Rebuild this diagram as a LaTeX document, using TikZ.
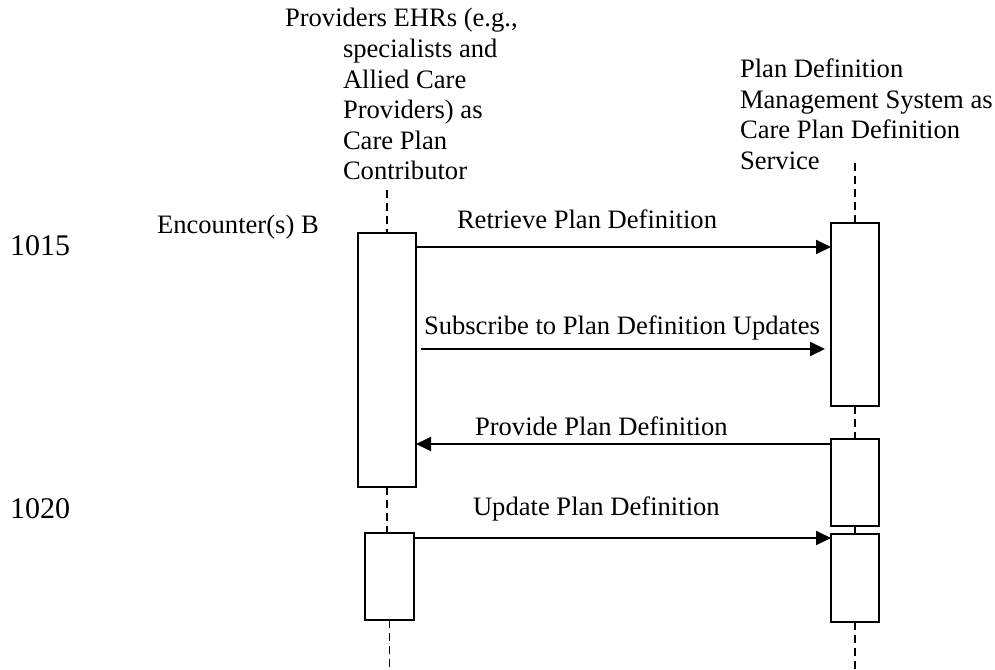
\documentclass[tikz,border=0pt]{standalone}
\usepackage{fontspec}
\setmainfont{Liberation Serif}
\usetikzlibrary{arrows.meta}
\begin{document}
\begin{tikzpicture}[x=1pt,y=-1pt,
  txt/.style={inner sep=0pt,outer sep=0pt,font=\fontsize{26.6}{30.6}\selectfont},
  bignum/.style={inner sep=0pt,outer sep=0pt,font=\fontsize{30}{34}\selectfont},
  actbox/.style={draw,line width=1.8pt,fill=white,inner sep=0pt,outer sep=0pt},
  life/.style={line width=1.8pt,dash pattern=on 8pt off 5pt},
  msg/.style={line width=1.8pt,-{Triangle[length=15pt,width=14pt]}}]
\useasboundingbox (0,0) rectangle (995,669);

% participants
\node[txt,anchor=north west,align=left] (prov) at (285,8.5)
  {Providers EHRs (e.g.,\\
   \hspace*{58pt}specialists and\\
   \hspace*{58pt}Allied Care\\
   \hspace*{58pt}Providers) as\\
   \hspace*{58pt}Care Plan\\
   \hspace*{58pt}Contributor};
\node[txt,anchor=north west,align=left] (pdms) at (740,59)
  {Plan Definition\\Management System as\\Care Plan Definition\\Service};

% activation boxes
\node[actbox,minimum width=58pt,minimum height=254pt] (lb1) at (387,360) {};
\node[actbox,minimum width=49pt,minimum height=87pt] (lb2) at (389.5,576.5) {};
\node[actbox,minimum width=48pt,minimum height=183pt] (rb1) at (855,314.5) {};
\node[actbox,minimum width=48pt,minimum height=87pt] (rb2) at (855,482.5) {};
\node[actbox,minimum width=48pt,minimum height=88pt] (rb3) at (855,578) {};

% lifelines
\coordinate (ltop) at (387,190);
\coordinate (lbot) at (389.5,669);
\coordinate (rtop) at (855,163);
\coordinate (rbot) at (855,669);
\draw[life] (ltop) -- (lb1.north);
\draw[life] (lb1.south) -- (lb1.south |- lb2.north);
\draw[life] (lb2.south) -- (lbot);
\draw[life] (rtop) -- (rb1.north);
\draw[life] (rb1.south) -- (rb2.north);
\draw[line width=1.8pt] (rb2.south) -- (rb3.north);
\draw[life] (rb3.south) -- (rbot);

% message levels
\coordinate (a1) at (0,247);
\coordinate (a2) at (0,349);
\coordinate (a3) at (0,444);
\coordinate (a4) at (0,538);

\draw[msg] (lb1.east |- a1) -- (rb1.west |- a1);
\draw[msg,shorten <=5pt,shorten >=6pt] (lb1.east |- a2) -- (rb1.west |- a2);
\draw[msg] (rb2.west |- a3) -- (lb1.east |- a3);
\draw[msg] (lb2.east |- a4) -- (rb3.west |- a4);

% labels
\node[txt,anchor=base west] (l1) at (457,228) {Retrieve Plan Definition};
\node[txt,anchor=base west] (l2) at (424,334) {Subscribe to Plan Definition Updates};
\node[txt,anchor=base west] (l3) at (475,435) {Provide Plan Definition};
\node[txt,anchor=base west] (l4) at (473,515) {Update Plan Definition};
\node[txt,anchor=base west] (enc) at (157,233) {Encounter(s) B};
\node[bignum,anchor=base west] (n1) at (10,255) {1015};
\node[bignum,anchor=base west] (n2) at (10,518) {1020};
\end{tikzpicture}
\end{document}
